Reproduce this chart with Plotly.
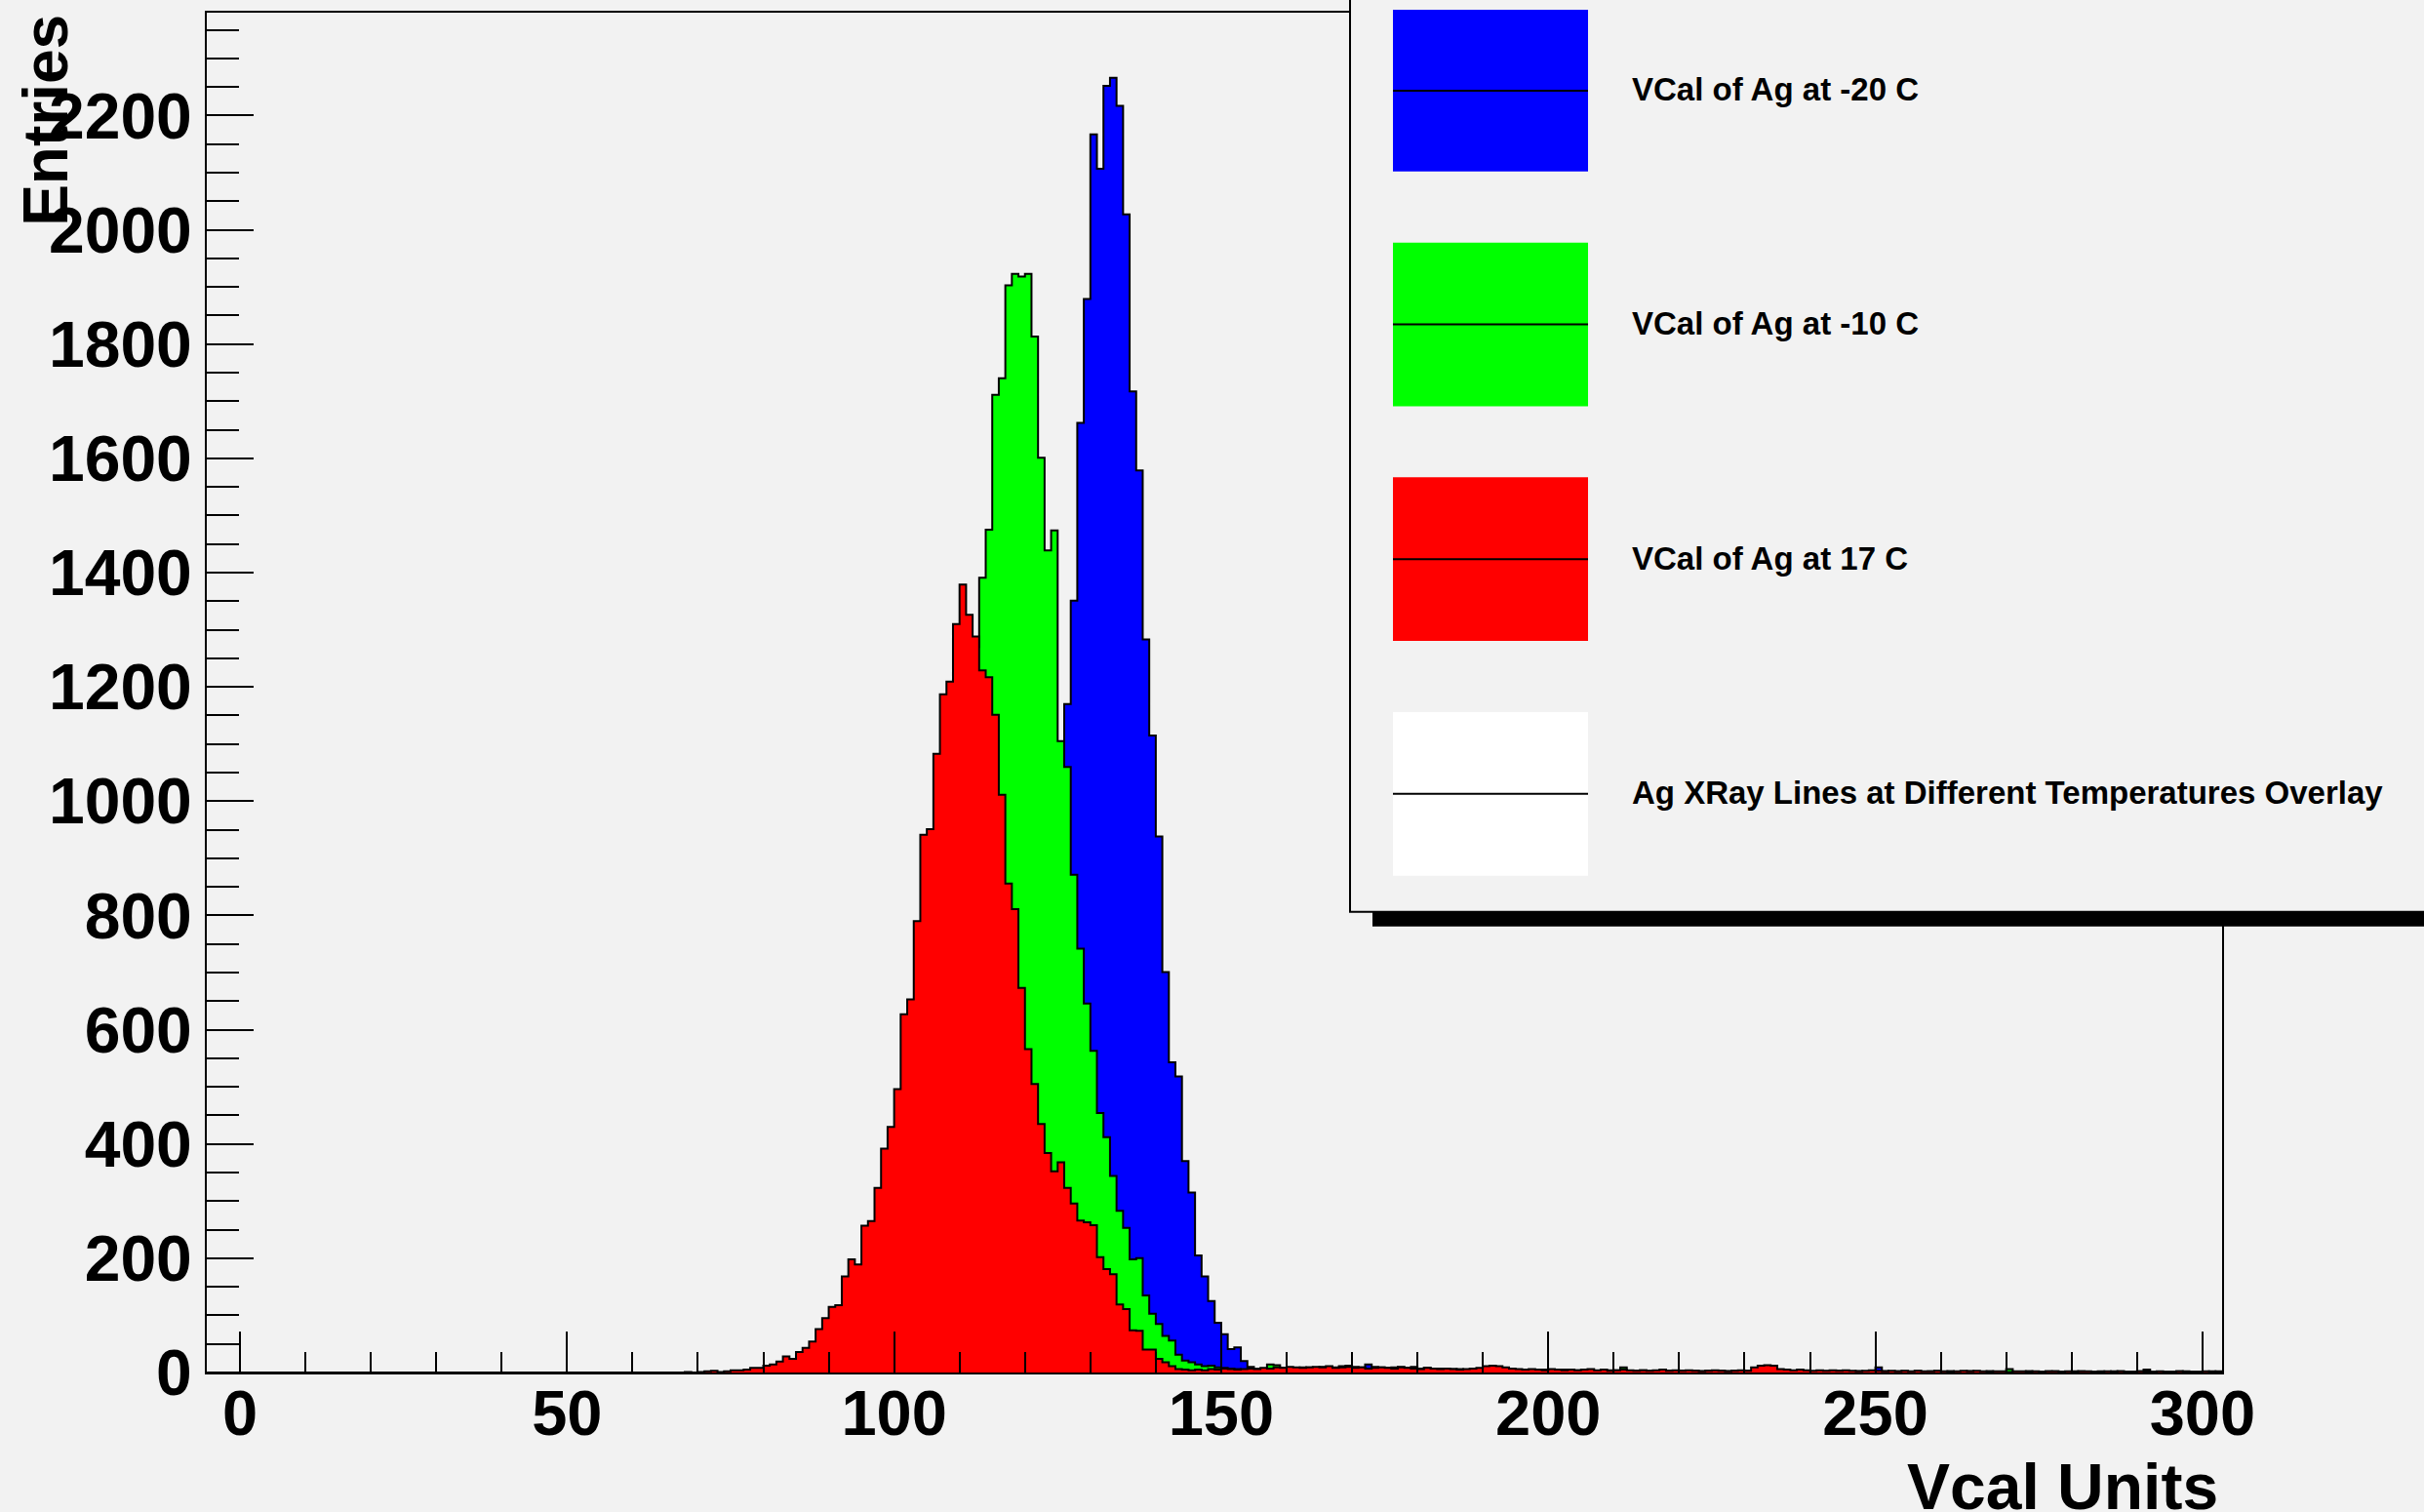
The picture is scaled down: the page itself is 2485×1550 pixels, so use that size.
import plotly.graph_objects as go

# ---------------- data ----------------
X_MIN, X_MAX = -5, 303          # histogram axis range, 1-unit bins

red_label = "VCal of Ag at 17 C"
green_label = "VCal of Ag at -10 C"
blue_label = "VCal of Ag at -20 C"
title_label = "Ag XRay Lines at Different Temperatures Overlay"

red_start = 68
red_counts = [
    1, 0, 1, 2, 3, 1, 2, 4, 4, 5,
    8, 8, 12, 14, 19, 28, 24, 36, 43, 54,
    76, 95, 115, 118, 168, 198, 189, 257, 265, 323,
    392, 430, 496, 627, 653, 790, 941, 951, 1083, 1187,
    1209, 1310, 1379, 1326, 1288, 1229, 1217, 1151, 1011, 856,
    811, 673, 566, 505, 435, 384, 352, 368, 323, 296,
    266, 263, 258, 202, 181, 172, 119, 111, 74, 73,
    40, 40, 24, 18, 11, 6,
    5, 4, 5, 4, 6, 5, 7, 6, 5, 6,
    7, 6, 8, 7, 9, 8, 10, 9, 8, 9,
    10, 9, 11, 8, 9, 10, 8, 9, 7, 8,
    9, 8, 7, 9, 8, 7, 6, 8, 7, 6,
    7, 6, 5, 6, 7, 8, 11, 12, 11, 9,
    7, 6, 5, 6, 5, 4, 6, 5, 4, 5,
    4, 5, 6, 4, 5, 3, 4, 5, 4, 3,
    4, 3, 4, 5, 3, 4, 3, 4, 3, 2,
    3, 4, 3, 2, 3, 4, 3, 9, 12, 13,
    12, 6, 5, 4, 5, 4, 3, 4, 3, 4,
    3, 4, 3, 2, 3, 4, 3, 2, 3, 2,
    3, 2, 3, 2, 2, 3, 2, 1, 2, 3,
    2, 3, 2, 1, 2, 2, 1, 2, 2, 1,
    2, 1, 2, 2, 1, 2, 1, 2, 2, 1,
    1, 2, 1, 2, 1, 1, 2, 1, 1, 2,
    1, 1, 2, 1, 1, 1, 2, 1, 1,
]

green_start = 84
green_counts = [
    1, 2, 2, 4, 6, 9, 14, 20, 28, 40,
    55, 75, 105, 140, 185, 240, 300, 365, 450, 530,
    640, 720, 850, 930, 1050, 1120, 1190, 1240, 1270,
    1391, 1475, 1711, 1740, 1903, 1923, 1918, 1923, 1813, 1601,
    1439, 1474, 1105, 1060, 871, 742, 646, 563, 454, 412,
    344, 283, 253, 198, 200, 135, 103, 85, 64, 56, 31, 21,
    18, 14, 11, 12, 9, 8, 7, 6, 5, 5,
    6, 5, 14, 13, 7, 6, 8, 7, 9, 6,
    7, 8, 6, 9, 7, 6, 8, 7, 6, 7,
    5, 6, 10, 7, 5, 6, 8, 5, 6, 5,
    6, 4, 5, 6, 4, 5, 6, 4, 5, 4,
    3, 4, 5, 3, 4, 3, 4, 5, 3, 4,
    3, 4, 2, 3, 4, 3, 9, 3, 2, 3,
    2, 3, 2, 3, 2, 3, 2, 1, 2, 3,
    2, 3, 2, 1, 2, 3, 2, 3, 2, 1,
    2, 1, 2, 3, 2, 1, 2, 1, 2, 3,
    2, 1, 2, 1, 2, 1, 2, 1, 1, 2,
    1, 2, 1, 1, 2, 1, 2, 1, 1, 2,
    1, 1, 2, 1, 1, 6, 1, 1, 2, 1,
    1, 2, 1, 1, 1, 2, 1, 1, 1, 2,
    1, 1, 2, 1, 1, 1, 2, 1, 1, 1,
    1, 2, 1, 1, 1, 1, 2, 1,
]

blue_start = 106
blue_counts = [
    1, 2, 4, 6, 10, 16, 24, 36, 52, 75,
    105, 145, 195, 255, 330, 420, 520, 650, 800, 950,
    1170, 1351, 1662, 1879, 2167, 2107, 2252, 2266, 2217, 2027,
    1717, 1579, 1283, 1115, 938, 701, 543, 518, 370, 315,
    205, 168, 125, 87, 67, 41, 44, 20, 10,
    6, 5, 7, 6, 8, 7, 6, 9, 7, 8,
    10, 8, 9, 11, 12, 10, 9, 14, 10, 9,
    8, 9, 7, 8, 10, 7, 8, 6, 7, 6,
    5, 6, 4, 5, 6, 4, 5, 4, 6, 5,
    4, 5, 3, 4, 5, 3, 4, 3, 4, 3,
    3, 4, 3, 2, 3, 4, 3, 2, 3, 4,
    2, 3, 2, 3, 2, 3, 2, 3, 2, 2,
    3, 2, 2, 3, 2, 1, 2, 3, 2, 2,
    1, 2, 3, 2, 2, 1, 2, 2, 1, 2,
    2, 1, 2, 1, 2, 9, 2, 1, 2, 1,
    1, 2, 1, 2, 1, 1, 2, 1, 1, 2,
    1, 1, 2, 1, 1, 2, 1, 1, 2, 1,
    1, 1, 2, 1, 1, 1, 2, 1, 1, 1,
    1, 2, 1, 1, 1, 2, 5, 1, 1, 1,
    1, 1, 2, 1, 1, 1, 1, 2,
]

y_ticks = [0, 200, 400, 600, 800, 1000, 1200, 1400, 1600, 1800, 2000, 2200]
x_ticks = [0, 50, 100, 150, 200, 250, 300]

# ---------------- geometry (pixels of the 2485x1550 canvas) ----------------
W, H = 2485, 1550
PL, PR, PT, PB = 212, 2278, 11, 1407   # plot-area box


def px(X):
    return (X - PL) / (PR - PL)


def py(Y):
    return (PB - Y) / (PB - PT)


def step_xy(start, counts):
    edges = list(range(X_MIN, X_MAX + 1))
    vals = [0] * (X_MAX - X_MIN)
    for i, c in enumerate(counts):
        vals[start - X_MIN + i] = c
    return edges, vals + [vals[-1]]


FONT = "Liberation Sans, Arial, Helvetica, sans-serif"

fig = go.Figure()
for start, counts, color, name in [
    (blue_start, blue_counts, "#0000ff", blue_label),
    (green_start, green_counts, "#00ff00", green_label),
    (red_start, red_counts, "#ff0000", red_label),
]:
    xs, ys = step_xy(start, counts)
    fig.add_trace(go.Scatter(
        x=xs, y=ys, mode="lines", line_shape="hv",
        line=dict(color="black", width=2),
        fill="tozeroy", fillcolor=color, name=name,
        hoverinfo="skip",
    ))

axis_common = dict(
    showgrid=False, zeroline=False, showline=True, linecolor="black",
    linewidth=2, mirror=True, ticks="inside", tickcolor="black", tickwidth=2,
)
fig.update_xaxes(
    range=[-5.07, 303], tickmode="array", tickvals=x_ticks,
    ticktext=[str(v) for v in x_ticks], ticklen=42,
    minor=dict(ticks="inside", ticklen=21, dtick=10, tick0=0,
               tickwidth=2, tickcolor="black"),
    tickfont=dict(family=FONT, size=65, color="black", weight="bold"),
    ticklabelstandoff=-16,
    **axis_common,
)
fig.update_yaxes(
    range=[0, 2380], tickmode="array", tickvals=y_ticks,
    ticktext=[str(v) for v in y_ticks], ticklen=48,
    minor=dict(ticks="inside", ticklen=33, dtick=50, tick0=0,
               tickwidth=2, tickcolor="black"),
    tickfont=dict(family=FONT, size=66, color="black", weight="bold"),
    ticklabelstandoff=0,
    **axis_common,
)

shapes = []
# legend shadow and box
shapes.append(dict(type="rect", xref="paper", yref="paper",
                   x0=px(1407), x1=px(2500), y0=py(949), y1=py(933),
                   fillcolor="black", line=dict(width=0), layer="above"))
shapes.append(dict(type="rect", xref="paper", yref="paper",
                   x0=px(1384), x1=px(2500), y0=py(934), y1=py(-10),
                   fillcolor="#f2f2f2", line=dict(color="black", width=2),
                   layer="above"))

legend_rows = [
    (blue_label, "#0000ff", 8, 174),
    (green_label, "#00ff00", 247, 415),
    (red_label, "#ff0000", 488, 656),
    (title_label, "#ffffff", 729, 897),
]
annotations = []
for label, color, top, bot in legend_rows:
    mid = (top + bot) / 2
    shapes.append(dict(type="rect", xref="paper", yref="paper",
                       x0=px(1428), x1=px(1628), y0=py(bot), y1=py(top),
                       fillcolor=color, line=dict(width=0), layer="above"))
    shapes.append(dict(type="line", xref="paper", yref="paper",
                       x0=px(1428), x1=px(1628), y0=py(mid), y1=py(mid),
                       line=dict(color="black", width=2), layer="above"))
    annotations.append(dict(
        text=label, xref="paper", yref="paper", x=px(1671), y=py(mid - 1),
        xanchor="left", yanchor="middle", showarrow=False,
        font=dict(family=FONT, size=33, color="black", weight="bold"),
    ))

annotations.append(dict(
    text="Vcal Units", xref="paper", yref="paper", x=px(2276), y=py(1524),
    xanchor="right", yanchor="middle", showarrow=False,
    font=dict(family=FONT, size=66, color="black", weight="bold"),
))
annotations.append(dict(
    text="Entries", xref="paper", yref="paper", x=px(47), y=py(122),
    xanchor="center", yanchor="middle", textangle=-90, showarrow=False,
    font=dict(family=FONT, size=64, color="black", weight="bold"),
))

fig.update_layout(
    width=W, height=H,
    margin=dict(l=PL, r=W - PR, t=PT, b=H - PB, pad=0),
    paper_bgcolor="#f2f2f2", plot_bgcolor="#f2f2f2",
    showlegend=False, shapes=shapes, annotations=annotations,
    font=dict(family=FONT, color="black"),
)

fig.write_html(
    "out.html",
    config={"displayModeBar": False},
    post_script="document.body.style.margin='0';document.body.style.overflow='hidden';",
)
